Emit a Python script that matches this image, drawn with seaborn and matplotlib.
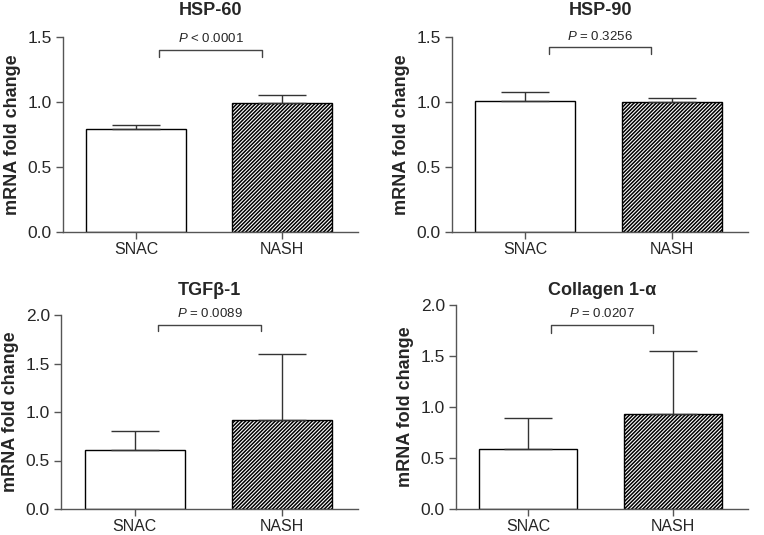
import matplotlib
matplotlib.use('Agg')
import matplotlib.pyplot as plt
import seaborn as sns
import pandas as pd

# values
groups = ['SNAC', 'NASH']
titles = ['HSP-60', 'HSP-90', 'TGFβ-1', 'Collagen 1-α']
means = [[0.79, 0.99], [1.01, 1.00], [0.61, 0.92], [0.59, 0.93]]
upper = [[0.82, 1.05], [1.08, 1.03], [0.80, 1.60], [0.89, 1.55]]
p_labels = ['< 0.0001', '= 0.3256', '= 0.0089', '= 0.0207']
y_max = [1.5, 1.5, 2.0, 2.0]
bracket_y = [1.40, 1.42, 1.90, 1.80]

sns.set_style('ticks')
plt.rcParams['font.family'] = ['Liberation Sans', 'DejaVu Sans']
plt.rcParams['mathtext.fontset'] = 'custom'
plt.rcParams['mathtext.rm'] = 'Liberation Sans'
plt.rcParams['mathtext.it'] = 'Liberation Sans:italic'
plt.rcParams['hatch.linewidth'] = 1.1

axis_gray = '#555555'

fig = plt.figure(figsize=(7.64, 5.35), dpi=100)

# axes boxes in figure fractions [left, bottom, width, height]
boxes = [
    [63 / 764, 1 - 232 / 535, 295 / 764, 195 / 535],
    [452 / 764, 1 - 232 / 535, 296 / 764, 195 / 535],
    [61 / 764, 1 - 509 / 535, 297 / 764, 194 / 535],
    [456 / 764, 1 - 509 / 535, 292 / 764, 204 / 535],
]
title_pad = [16, 16, 14.5, 7]

for i in range(4):
    ax = fig.add_axes(boxes[i])
    df = pd.DataFrame({'group': groups, 'value': means[i]})
    sns.barplot(data=df, x='group', y='value', ax=ax, color='white',
                edgecolor='black', linewidth=1.0, width=0.68, errorbar=None)
    ax.patches[1].set_hatch('/' * 9)

    # upper error bars only
    err = [u - m for u, m in zip(upper[i], means[i])]
    ax.errorbar([0, 1], means[i], yerr=[[0, 0], err], fmt='none',
                ecolor='#333333', elinewidth=1.0, capsize=17, capthick=1.0)

    # significance bracket
    by = bracket_y[i]
    tick = 0.035 * y_max[i]
    ax.plot([0.16, 0.16, 0.86, 0.86], [by - tick, by, by, by - tick],
            color='#444444', lw=1.0, clip_on=False)
    ax.text(0.51, by + 0.025 * y_max[i], f'$P$ {p_labels[i]}',
            ha='center', va='bottom', fontsize=9.5)

    ax.set_xlim(-0.5, 1.52)
    ax.set_ylim(0, y_max[i])
    n_ticks = int(y_max[i] / 0.5) + 1
    ax.set_yticks([k * 0.5 for k in range(n_ticks)])
    ax.set_yticklabels([f'{k * 0.5:.1f}' for k in range(n_ticks)])
    ax.tick_params(axis='y', labelsize=12.5, length=5, width=1.0,
                   color=axis_gray, pad=3)
    ax.tick_params(axis='x', labelsize=11.5, length=5, width=1.0,
                   color=axis_gray, pad=2)
    ax.set_xlabel('')
    ax.set_ylabel('mRNA fold change', fontsize=13, fontweight='bold', labelpad=5)
    ax.set_title(titles[i], fontsize=13, fontweight='bold', pad=title_pad[i])
    sns.despine(ax=ax)
    for side in ['left', 'bottom']:
        ax.spines[side].set_color(axis_gray)
        ax.spines[side].set_linewidth(1.0)

fig.savefig('out.png', dpi=100)
